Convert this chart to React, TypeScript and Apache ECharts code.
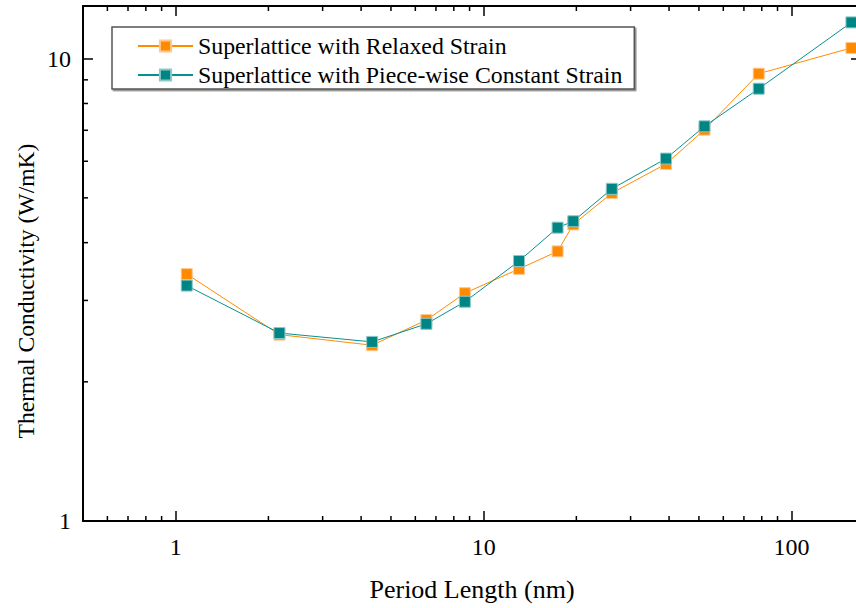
import React, { useEffect, useRef } from "react";
import * as echarts from "echarts";

const periodLength = [1.086, 2.172, 4.344, 6.517, 8.689, 13.03, 17.38, 19.55, 26.07, 39.1, 52.13, 78.2, 156.4];
const relaxedStrain = [3.42, 2.53, 2.4, 2.72, 3.11, 3.51, 3.83, 4.38, 5.12, 5.92, 7.02, 9.28, 10.55];
const piecewiseStrain = [3.23, 2.55, 2.44, 2.67, 2.98, 3.65, 4.31, 4.45, 5.23, 6.08, 7.14, 8.61, 11.98];
const xMinorTicks = [0.6, 0.7, 0.8, 0.9, 2, 3, 4, 5, 6, 7, 8, 9, 20, 30, 40, 50, 60, 70, 80, 90];
const yMinorTicks = [2, 3, 4, 5, 6, 7, 8, 9];

const SERIES_A = "Superlattice with Relaxed Strain";
const SERIES_B = "Superlattice with Piece-wise Constant Strain";
const FONT = "'Liberation Serif', 'Times New Roman', serif";

const powLabel = (v: number) => {
  const l = Math.log10(v);
  return Math.abs(l - Math.round(l)) < 1e-6 ? String(Math.round(v)) : "";
};

export default function App() {
  const ref = useRef<HTMLDivElement>(null);
  useEffect(() => {
    document.body.style.margin = "0";
    if (!ref.current) return;
    const chart = echarts.init(ref.current, undefined, { renderer: "svg" });
    const axisLine = { show: true, lineStyle: { color: "#000", width: 2 } };
    const axisTick = { show: true, inside: true, length: 10, lineStyle: { color: "#000", width: 1.5 } };
    const xBase = { type: "log", logBase: 10, min: 0.5, max: 168, splitLine: { show: false }, axisLine, axisTick };
    const yBase = { type: "log", logBase: 10, min: 1, max: 13, splitLine: { show: false }, axisLine, axisTick };
    const minorX = (params: any, api: any) => {
      const cs = params.coordSys;
      const px = api.coord([api.value(0), 2])[0];
      return {
        type: "group",
        children: [
          { type: "line", shape: { x1: px, y1: cs.y + cs.height, x2: px, y2: cs.y + cs.height - 5 }, style: { stroke: "#000", lineWidth: 1.5 } },
          { type: "line", shape: { x1: px, y1: cs.y, x2: px, y2: cs.y + 5 }, style: { stroke: "#000", lineWidth: 1.5 } },
        ],
      };
    };
    const minorY = (params: any, api: any) => {
      const cs = params.coordSys;
      const py = api.coord([2, api.value(1)])[1];
      return {
        type: "group",
        children: [
          { type: "line", shape: { x1: cs.x, y1: py, x2: cs.x + 5, y2: py }, style: { stroke: "#000", lineWidth: 1.5 } },
          { type: "line", shape: { x1: cs.x + cs.width, y1: py, x2: cs.x + cs.width - 5, y2: py }, style: { stroke: "#000", lineWidth: 1.5 } },
        ],
      };
    };
    chart.setOption({
      animation: false,
      backgroundColor: "#fff",
      grid: { left: 83, top: 6, width: 778, height: 515, outerBoundsMode: "none", containLabel: false },
      xAxis: [
        {
          ...xBase,
          position: "bottom",
          name: "Period Length (nm)",
          nameLocation: "middle",
          nameGap: 55,
          nameTextStyle: { fontFamily: FONT, fontSize: 26, color: "#000" },
          axisLabel: { formatter: powLabel, fontFamily: FONT, fontSize: 24, color: "#000", margin: 14 },
        },
        { ...xBase, position: "top", axisLabel: { show: false } },
      ],
      yAxis: [
        {
          ...yBase,
          position: "left",
          axisLabel: { formatter: powLabel, fontFamily: FONT, fontSize: 24, color: "#000", margin: 12 },
        },
        { ...yBase, position: "right", axisLabel: { show: false } },
      ],
      legend: {
        data: [SERIES_A, SERIES_B],
        orient: "vertical",
        left: 112,
        top: 27,
        itemWidth: 55,
        itemHeight: 14,
        itemGap: 5,
        padding: [7, 12, 2, 25],
        borderColor: "#555",
        borderWidth: 1.5,
        backgroundColor: "#fff",
        shadowColor: "rgba(0,0,0,0.45)",
        shadowOffsetX: 1.5,
        shadowOffsetY: 1.5,
        shadowBlur: 0,
        textStyle: { fontFamily: FONT, fontSize: 23.8, color: "#000", lineHeight: 24 },
      },
      graphic: [
        {
          type: "text",
          x: 26,
          y: 291,
          rotation: Math.PI / 2,
          style: {
            text: "Thermal Conductivity (W/mK)",
            fontFamily: FONT,
            fontSize: 23.6,
            fill: "#000",
            align: "center",
            verticalAlign: "middle",
          },
        },
      ],
      series: [
        {
          name: SERIES_A,
          type: "line",
          data: periodLength.map((x, i) => [x, relaxedStrain[i]]),
          symbol: "rect",
          symbolSize: 11,
          lineStyle: { color: "#FF8C00", width: 1 },
          itemStyle: { color: "#FF8A00", borderColor: "#FFC890", borderWidth: 1 },
          z: 3,
        },
        {
          name: SERIES_B,
          type: "line",
          data: periodLength.map((x, i) => [x, piecewiseStrain[i]]),
          symbol: "rect",
          symbolSize: 11,
          lineStyle: { color: "#0A8F8F", width: 1 },
          itemStyle: { color: "#008585", borderColor: "#8CC8C8", borderWidth: 1 },
          z: 4,
        },
        {
          type: "custom",
          renderItem: minorX,
          data: xMinorTicks.map((v) => [v, 2]),
          silent: true,
          z: 5,
        },
        {
          type: "custom",
          renderItem: minorY,
          data: yMinorTicks.map((v) => [2, v]),
          silent: true,
          z: 5,
        },
      ],
    });
    return () => chart.dispose();
  }, []);
  return <div ref={ref} style={{ width: 856, height: 608 }} />;
}
